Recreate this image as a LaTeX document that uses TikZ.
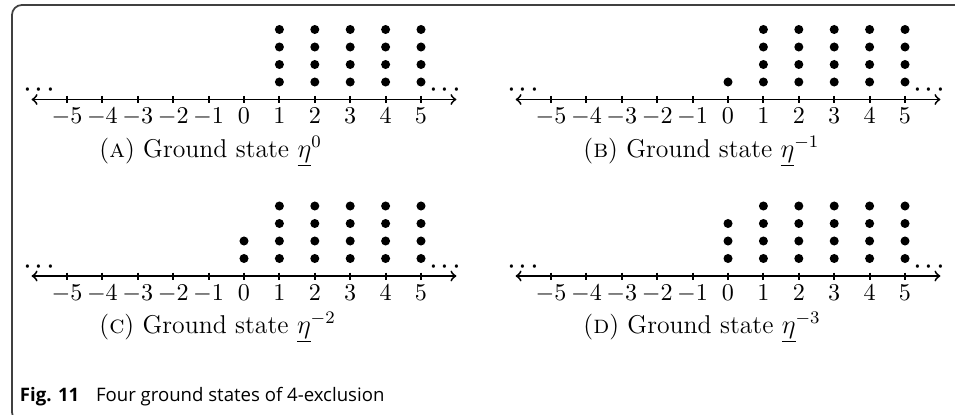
\documentclass[tikz,border=0pt]{standalone}
\usepackage{fontspec}
\newfontfamily\capfont{Open Sans}
\tikzset{
  axisline/.style={line width=0.85pt,<->},
  tickmark/.style={line width=0.85pt},
  numlab/.style={anchor=base,inner sep=0pt,font=\fontsize{11}{13}\selectfont},
  dotslab/.style={anchor=base,inner sep=0pt,font=\fontsize{14}{16}\selectfont},
  subcap/.style={anchor=base west,inner sep=0pt,font=\fontsize{11.7}{14}\selectfont},
  particle/.style={fill=black},
  frame/.style={draw=black!75,line width=0.8pt,rounded corners=4.5pt},
}
\newcommand\gspanel[5]{%
  % #1 x of tick 0, #2 y of axis, #3 particles at 0, #4 caption, #5 name
  \begin{scope}[shift={(#1,#2)}]
    \draw[axisline] (-6*35.4,0) -- (6*35.4,0);
    \foreach \k in {-5,...,5} {
      \draw[tickmark] (\k*35.4,-3.5) -- (\k*35.4,3.5);
      \node[numlab] (#5n\k) at (\k*35.4,24) {$\k$};
    }
    \node[dotslab] (#5l) at (-5.78*35.4,-2) {$\cdot\mkern-2.4mu\cdot\mkern-2.4mu\cdot$};
    \node[dotslab] (#5r) at (5.68*35.4,-2) {$\cdot\mkern-2.4mu\cdot\mkern-2.4mu\cdot$};
    \foreach \c in {1,...,5} \foreach \r in {1,...,4}
      \fill[particle] (\c*35.4,-\r*17.5) circle (2.05pt);
    \ifnum#3>0
      \foreach \r in {1,...,#3} \fill[particle] (0,-\r*17.5) circle (2.05pt);
    \fi
    \node[subcap] (#5c) at (-145,57.5) {#4};
  \end{scope}}
\begin{document}
\begin{tikzpicture}[x=0.4545pt,y=-0.4545pt]
  \useasboundingbox (0,0) rectangle (955,415);
  \begin{scope}
    \clip (0,0) rectangle (955,415);
    \draw[frame] (970,5) -- (12,5) -- (12,422) -- (40,422);
  \end{scope}
  \gspanel{244}{99.5}{0}{(\textsc{a}) Ground state $\underline{\eta}^{0}$}{A}
  \gspanel{728}{99.5}{1}{(\textsc{b}) Ground state $\underline{\eta}^{-1}$}{B}
  \gspanel{244}{276}{2}{(\textsc{c}) Ground state $\underline{\eta}^{-2}$}{C}
  \gspanel{728}{276}{3}{(\textsc{d}) Ground state $\underline{\eta}^{-3}$}{D}
  \node[anchor=base west,inner sep=0pt,font=\capfont\fontsize{8.45}{10}\selectfont] (fig) at (19.5,401)
    {\textbf{Fig. 11}\hspace{0.9em}Four ground states of 4-exclusion};
\end{tikzpicture}
\end{document}
